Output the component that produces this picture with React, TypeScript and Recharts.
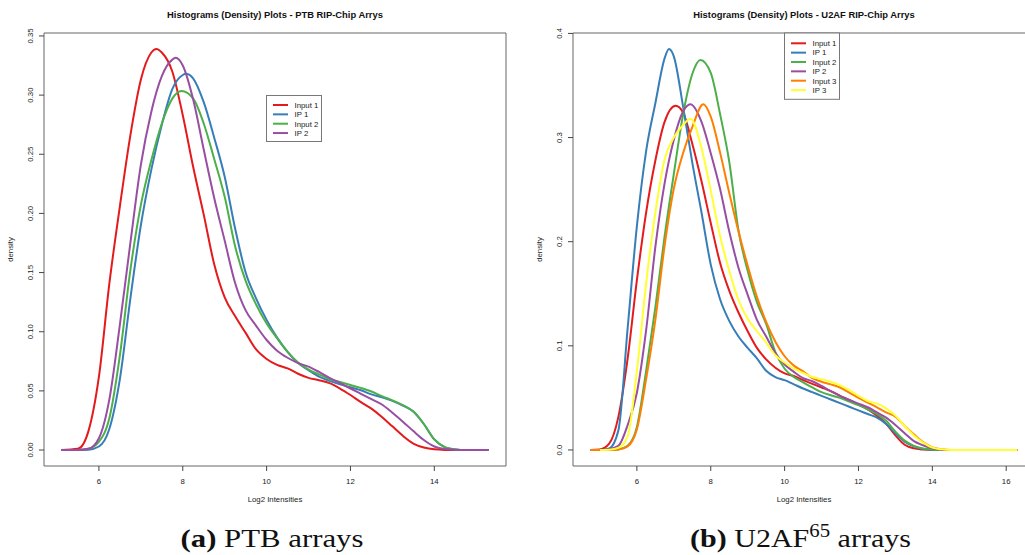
import React from 'react';
import { LineChart, Line, XAxis, YAxis, ReferenceArea } from 'recharts';

// ---------- PTB arrays (left) ----------
const ptbX = [5.1, 5.5, 5.75, 6.0, 6.25, 6.5, 6.75, 7.0, 7.25, 7.5, 7.75, 8.0, 8.25, 8.5, 8.75, 9.0, 9.25, 9.5, 9.75, 10.0, 10.25, 10.5, 10.75, 11.0, 11.25, 11.5, 11.75, 12.0, 12.25, 12.5, 12.75, 13.0, 13.25, 13.5, 13.75, 14.0, 14.25, 14.5, 14.75, 15.0, 15.3];
const ptbInput1 = [0, 0.001, 0.016, 0.062, 0.141, 0.206, 0.266, 0.313, 0.336, 0.336, 0.32, 0.283, 0.239, 0.199, 0.157, 0.129, 0.113, 0.099, 0.085, 0.077, 0.072, 0.069, 0.0645, 0.061, 0.059, 0.0565, 0.052, 0.0465, 0.0405, 0.035, 0.028, 0.02, 0.012, 0.0055, 0.0022, 0.0006, 0.0001, 0, 0, 0, 0];
const ptbIP1 = [0, 0, 0.0003, 0.003, 0.018, 0.06, 0.128, 0.19, 0.237, 0.275, 0.305, 0.317, 0.314, 0.294, 0.264, 0.231, 0.187, 0.15, 0.128, 0.11, 0.095, 0.083, 0.0735, 0.0675, 0.062, 0.0585, 0.0555, 0.053, 0.0505, 0.047, 0.0445, 0.0415, 0.0375, 0.0325, 0.022, 0.009, 0.0025, 0.0005, 0, 0, 0];
const ptbInput2 = [0, 0, 0.001, 0.007, 0.027, 0.08, 0.152, 0.207, 0.245, 0.276, 0.297, 0.303, 0.297, 0.276, 0.246, 0.214, 0.172, 0.143, 0.123, 0.107, 0.0945, 0.083, 0.074, 0.068, 0.064, 0.06, 0.0575, 0.055, 0.0525, 0.0495, 0.0455, 0.042, 0.038, 0.0325, 0.022, 0.009, 0.0025, 0.0005, 0, 0, 0];
const ptbIP2 = [0, 0, 0.001, 0.01, 0.043, 0.106, 0.175, 0.241, 0.286, 0.316, 0.33, 0.325, 0.296, 0.254, 0.213, 0.177, 0.141, 0.118, 0.105, 0.093, 0.084, 0.078, 0.0735, 0.0705, 0.066, 0.061, 0.0565, 0.052, 0.0475, 0.043, 0.0385, 0.0315, 0.024, 0.016, 0.0085, 0.003, 0.0008, 0.0002, 0, 0, 0];
// read-off peak of each curve: [log2 intensity, density]
const ptbPeakInput1: [number, number] = [7.37, 0.339];
const ptbPeakIP1: [number, number] = [8.07, 0.318];
const ptbPeakInput2: [number, number] = [7.97, 0.3035];
const ptbPeakIP2: [number, number] = [7.83, 0.3315];
const ptbXTicks = [6, 8, 10, 12, 14];
const ptbYTicks = [0, 0.05, 0.1, 0.15, 0.2, 0.25, 0.3, 0.35];

// ---------- U2AF65 arrays (right) ----------
const u2afX = [4.75, 5.0, 5.25, 5.5, 5.75, 6.0, 6.25, 6.5, 6.75, 7.0, 7.25, 7.5, 7.75, 8.0, 8.25, 8.5, 8.75, 9.0, 9.25, 9.5, 9.75, 10.0, 10.25, 10.5, 10.75, 11.0, 11.25, 11.5, 11.75, 12.0, 12.25, 12.5, 12.75, 13.0, 13.25, 13.5, 13.75, 14.0, 14.25, 14.5, 14.75, 15.0, 15.25, 15.5, 15.75, 16.0, 16.3];
const u2afInput1 = [0, 0.0005, 0.006, 0.032, 0.088, 0.163, 0.228, 0.278, 0.315, 0.329, 0.324, 0.294, 0.258, 0.218, 0.18, 0.153, 0.132, 0.114, 0.098, 0.087, 0.079, 0.0735, 0.071, 0.067, 0.0635, 0.06, 0.0565, 0.052, 0.048, 0.0435, 0.039, 0.033, 0.025, 0.014, 0.005, 0.0015, 0.0004, 0, 0, 0, 0, 0, 0, 0, 0, 0, 0];
const u2afIP1 = [0, 0, 0.0015, 0.019, 0.117, 0.215, 0.287, 0.333, 0.376, 0.378, 0.33, 0.276, 0.228, 0.178, 0.145, 0.124, 0.109, 0.098, 0.088, 0.076, 0.07, 0.067, 0.063, 0.059, 0.0555, 0.052, 0.0485, 0.045, 0.0415, 0.038, 0.0345, 0.031, 0.025, 0.016, 0.008, 0.0035, 0.001, 0.0003, 0, 0, 0, 0, 0, 0, 0, 0, 0];
const u2afInput2 = [0, 0, 0, 0.0005, 0.004, 0.022, 0.076, 0.137, 0.205, 0.265, 0.322, 0.361, 0.374, 0.362, 0.323, 0.277, 0.211, 0.172, 0.142, 0.121, 0.094, 0.078, 0.07, 0.065, 0.06, 0.0555, 0.0525, 0.05, 0.0465, 0.043, 0.039, 0.0345, 0.028, 0.0176, 0.009, 0.004, 0.0015, 0.0004, 0, 0, 0, 0, 0, 0, 0, 0, 0];
const u2afIP2 = [0, 0, 0.0008, 0.004, 0.024, 0.055, 0.115, 0.195, 0.256, 0.298, 0.325, 0.331, 0.315, 0.285, 0.251, 0.21, 0.175, 0.149, 0.125, 0.109, 0.093, 0.082, 0.075, 0.069, 0.066, 0.0615, 0.0565, 0.052, 0.048, 0.0445, 0.041, 0.036, 0.031, 0.024, 0.016, 0.0085, 0.0045, 0.0015, 0.0003, 0, 0, 0, 0, 0, 0, 0, 0];
const u2afInput3 = [0, 0, 0, 0.0005, 0.0035, 0.02, 0.068, 0.125, 0.196, 0.251, 0.285, 0.31, 0.33, 0.32, 0.286, 0.247, 0.21, 0.177, 0.147, 0.123, 0.104, 0.09, 0.081, 0.0755, 0.069, 0.0655, 0.063, 0.06, 0.055, 0.05, 0.0455, 0.041, 0.036, 0.032, 0.023, 0.015, 0.0075, 0.0025, 0.0008, 0, 0, 0, 0, 0, 0, 0, 0];
const u2afIP3 = [null, 0, 0.0003, 0.002, 0.013, 0.076, 0.16, 0.228, 0.279, 0.3, 0.312, 0.317, 0.29, 0.249, 0.206, 0.172, 0.144, 0.126, 0.114, 0.103, 0.091, 0.084, 0.078, 0.074, 0.07, 0.068, 0.0655, 0.062, 0.0575, 0.052, 0.047, 0.0445, 0.04, 0.033, 0.023, 0.014, 0.007, 0.0022, 0.0006, 0, 0, 0, 0, 0, 0, 0, 0];
const u2afPeakInput1: [number, number] = [7.05, 0.3305];
const u2afPeakIP1: [number, number] = [6.87, 0.385];
const u2afPeakInput2: [number, number] = [7.72, 0.3745];
const u2afPeakIP2: [number, number] = [7.45, 0.332];
const u2afPeakInput3: [number, number] = [7.8, 0.332];
const u2afPeakIP3: [number, number] = [7.45, 0.318];
const u2afXTicks = [6, 8, 10, 12, 14, 16];
const u2afYTicks = [0, 0.1, 0.2, 0.3, 0.4];

const COLORS = { red: '#E41A1C', blue: '#377EB8', green: '#4DAF4A', purple: '#984EA3', orange: '#FF7F00', yellow: '#FFFF33' };

type SeriesDef = { key: string; name: string; color: string; values: (number | null)[]; peak: [number, number] };

const ptbSeries: SeriesDef[] = [
  { key: 'input1', name: 'Input 1', color: COLORS.red, values: ptbInput1, peak: ptbPeakInput1 },
  { key: 'ip1', name: 'IP 1', color: COLORS.blue, values: ptbIP1, peak: ptbPeakIP1 },
  { key: 'input2', name: 'Input 2', color: COLORS.green, values: ptbInput2, peak: ptbPeakInput2 },
  { key: 'ip2', name: 'IP 2', color: COLORS.purple, values: ptbIP2, peak: ptbPeakIP2 },
];
const u2afSeries: SeriesDef[] = [
  { key: 'input1', name: 'Input 1', color: COLORS.red, values: u2afInput1, peak: u2afPeakInput1 },
  { key: 'ip1', name: 'IP 1', color: COLORS.blue, values: u2afIP1, peak: u2afPeakIP1 },
  { key: 'input2', name: 'Input 2', color: COLORS.green, values: u2afInput2, peak: u2afPeakInput2 },
  { key: 'ip2', name: 'IP 2', color: COLORS.purple, values: u2afIP2, peak: u2afPeakIP2 },
  { key: 'input3', name: 'Input 3', color: COLORS.orange, values: u2afInput3, peak: u2afPeakInput3 },
  { key: 'ip3', name: 'IP 3', color: COLORS.yellow, values: u2afIP3, peak: u2afPeakIP3 },
];

// points of one curve: the grid readings plus the read-off peak, ordered by x
function seriesPoints(xs: number[], s: SeriesDef) {
  const pts = xs
    .map((x, i) => ({ x, v: s.values[i] }))
    .filter((p) => p.v !== null && Math.abs(p.x - s.peak[0]) > 0.06);
  pts.push({ x: s.peak[0], v: s.peak[1] });
  return pts.sort((a, b) => a.x - b.x);
}

const PTB_XDOM: [number, number] = [4.69, 15.71];
const PTB_YDOM: [number, number] = [-0.0135, 0.3525];
const U2AF_XDOM: [number, number] = [4.27, 16.78];
const U2AF_YDOM: [number, number] = [-0.0154, 0.4004];

const SANS = '"Liberation Sans", Arial, Helvetica, sans-serif';
const SERIF = '"Liberation Serif", "Times New Roman", serif';
const FS = 7.8;
const AXIS_COLOR = '#444';
const BOX_COLOR = '#666';

const makeYTick = (digits: number) => (props: any) => {
  const { x, y, payload } = props;
  return (
    <text x={x} y={y} transform={`rotate(-90, ${x}, ${y})`} textAnchor="middle" fontSize={FS} fill="#222" fontFamily={SANS}>
      {Number(payload.value).toFixed(digits)}
    </text>
  );
};

function DensityPanel(props: {
  xs: number[]; series: SeriesDef[]; width: number; xDom: [number, number]; yDom: [number, number];
  xTicks: number[]; yTicks: number[]; yAxisWidth: number; marginRight: number; digits: number;
}) {
  const { xs, series, width, xDom, yDom, xTicks, yTicks, yAxisWidth, marginRight, digits } = props;
  return (
    <LineChart width={width} height={555} margin={{ top: 33, right: marginRight, bottom: 0, left: 0 }}>
      <XAxis
        type="number" dataKey="x" domain={xDom} ticks={xTicks} allowDataOverflow height={89}
        axisLine={false} tickSize={5} tickMargin={7} stroke={AXIS_COLOR}
        tickLine={{ stroke: AXIS_COLOR }}
        tick={{ fontSize: FS, fill: '#222', fontFamily: SANS }}
      />
      <YAxis
        type="number" domain={yDom} ticks={yTicks} allowDataOverflow width={yAxisWidth}
        axisLine={false} tickSize={5} tickMargin={6} stroke={AXIS_COLOR}
        tickLine={{ stroke: AXIS_COLOR }}
        tick={makeYTick(digits)}
      />
      <ReferenceArea x1={xDom[0]} x2={xDom[1]} y1={yDom[0]} y2={yDom[1]} fill="none" stroke={BOX_COLOR} strokeWidth={1} strokeOpacity={1} ifOverflow="visible" />
      {series.map((s) => (
        <Line key={s.key} data={seriesPoints(xs, s)} type="monotone" dataKey="v" name={s.name} stroke={s.color} strokeWidth={2} dot={false} activeDot={false} isAnimationActive={false} />
      ))}
    </LineChart>
  );
}

function LegendBox(props: { x: number; y: number; w: number; h: number; firstRow: number; series: SeriesDef[] }) {
  const { x, y, w, h, firstRow, series } = props;
  const step = 9.35;
  return (
    <g>
      <rect x={x} y={y} width={w} height={h} fill="#fff" stroke="#777" strokeWidth={1} />
      {series.map((s, i) => {
        const ry = firstRow + i * step;
        return (
          <g key={s.key}>
            <line x1={x + 6.5} x2={x + 21.5} y1={ry} y2={ry} stroke={s.color} strokeWidth={2} />
            <text x={x + 28} y={ry + 2.8} fontSize={FS} fill="#222" fontFamily={SANS}>{s.name}</text>
          </g>
        );
      })}
    </g>
  );
}

export default function App() {
  return (
    <div style={{ position: 'absolute', left: 0, top: 0, width: 1025, height: 555, overflow: 'hidden', background: '#fff' }}>
      <div style={{ position: 'absolute', left: 0, top: 0 }}>
        <DensityPanel xs={ptbX} series={ptbSeries} width={520} xDom={PTB_XDOM} yDom={PTB_YDOM}
          xTicks={ptbXTicks} yTicks={ptbYTicks} yAxisWidth={44} marginRight={14} digits={2} />
      </div>
      <div style={{ position: 'absolute', left: 515, top: 0 }}>
        <DensityPanel xs={u2afX} series={u2afSeries} width={535} xDom={U2AF_XDOM} yDom={U2AF_YDOM}
          xTicks={u2afXTicks} yTicks={u2afYTicks} yAxisWidth={58} marginRight={15} digits={1} />
      </div>
      <svg width={1025} height={555} style={{ position: 'absolute', left: 0, top: 0, pointerEvents: 'none' }}>
        <text x={275} y={18.4} textAnchor="middle" fontSize={9.4} fontWeight="bold" fill="#111" fontFamily={SANS}>
          Histograms (Density) Plots - PTB RIP-Chip Arrys
        </text>
        <text x={804} y={18.4} textAnchor="middle" fontSize={9.4} fontWeight="bold" fill="#111" fontFamily={SANS}>
          Histograms (Density) Plots - U2AF RIP-Chip Arrys
        </text>
        <text x={275} y={501.5} textAnchor="middle" fontSize={FS} fill="#222" fontFamily={SANS}>Log2 Intensities</text>
        <text x={804} y={501.5} textAnchor="middle" fontSize={FS} fill="#222" fontFamily={SANS}>Log2 Intensities</text>
        <text x={13} y={249.5} transform="rotate(-90, 13, 249.5)" textAnchor="middle" fontSize={FS} fill="#222" fontFamily={SANS}>density</text>
        <text x={541.5} y={249.5} transform="rotate(-90, 541.5, 249.5)" textAnchor="middle" fontSize={FS} fill="#222" fontFamily={SANS}>density</text>
        <LegendBox x={266.5} y={95.5} w={55} h={46} firstRow={105} series={ptbSeries} />
        <LegendBox x={784.5} y={33} w={55} h={66.3} firstRow={43.3} series={u2afSeries} />
        <text x={272} y={547} textAnchor="middle" fontSize={26} fill="#111" fontFamily={SERIF} textLength={183} lengthAdjust="spacingAndGlyphs">
          <tspan fontWeight="bold">(a)</tspan> PTB arrays
        </text>
        <text x={800.5} y={547} textAnchor="middle" fontSize={26} fill="#111" fontFamily={SERIF} textLength={221} lengthAdjust="spacingAndGlyphs">
          <tspan fontWeight="bold">(b)</tspan> U2AF<tspan fontSize={18} dy={-10}>65</tspan><tspan dy={10}> arrays</tspan>
        </text>
      </svg>
    </div>
  );
}
